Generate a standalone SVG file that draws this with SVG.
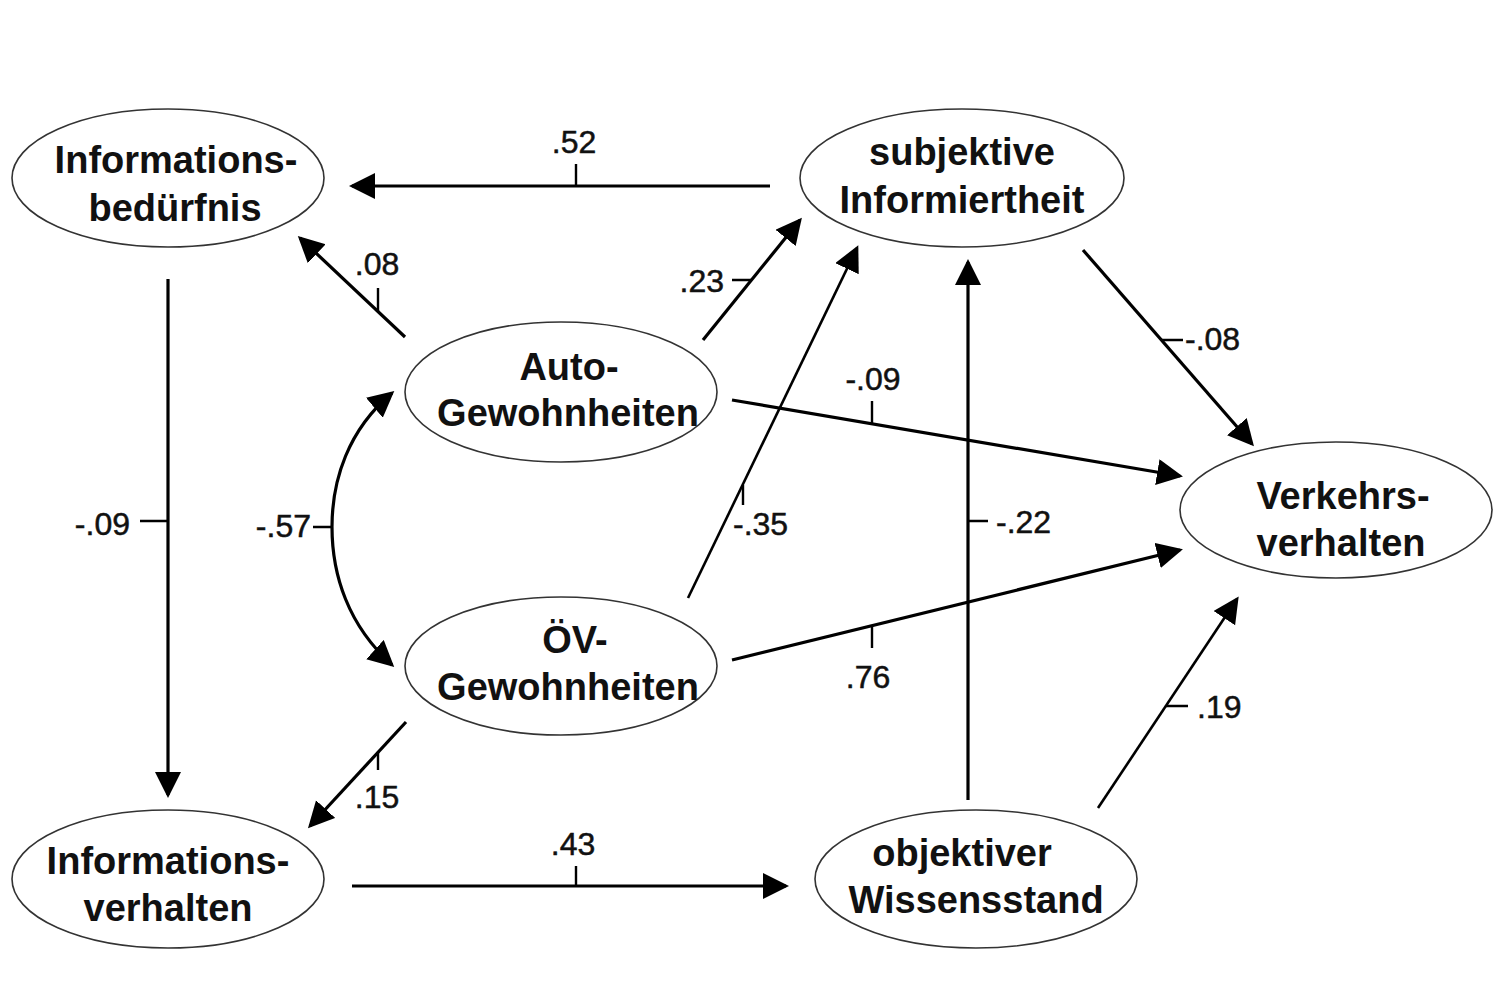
<svg xmlns="http://www.w3.org/2000/svg" width="1500" height="1000" viewBox="0 0 1500 1000">
<defs>
<marker id="ah" markerUnits="userSpaceOnUse" markerWidth="28" markerHeight="28" refX="23" refY="13" orient="auto-start-reverse">
<path d="M0,0 L26,13 L0,26 Z" fill="#000"/>
</marker>
<style>
.node ellipse{fill:#fff;stroke:#333;stroke-width:1.6}
.node text{font-family:"Liberation Sans",Arial,sans-serif;font-weight:bold;font-size:38px;fill:#111;text-anchor:middle}
.edge{fill:none;stroke:#000;stroke-width:3.2}
.thin{stroke-width:2.6}
.tick{fill:none;stroke:#000;stroke-width:2.4}
.lbl{font-family:"Liberation Sans",Arial,sans-serif;font-size:32px;fill:#111;stroke:#111;stroke-width:0.5}
</style>
</defs>
<rect width="1500" height="1000" fill="#fff"/>
<g id="connectors">
<path class="edge" d="M770,186 L352,186" marker-end="url(#ah)"/>
<path class="edge" d="M405,337 L300,238" marker-end="url(#ah)"/>
<path class="edge" d="M703,340 L800,220" marker-end="url(#ah)"/>
<path class="edge thin" d="M688,598 L857,248" marker-end="url(#ah)"/>
<path class="edge" d="M732,400 L1180,476" marker-end="url(#ah)"/>
<path class="edge" d="M732,660 L1180,550" marker-end="url(#ah)"/>
<path class="edge" d="M1083,250 L1252,444" marker-end="url(#ah)"/>
<path class="edge thin" d="M1098,808 L1237,599" marker-end="url(#ah)"/>
<path class="edge" d="M968,800 L968,262" marker-end="url(#ah)"/>
<path class="edge" d="M168,279 L168,795" marker-end="url(#ah)"/>
<path class="edge" d="M406,722 L310,826" marker-end="url(#ah)"/>
<path class="edge" d="M352,886 L786,886" marker-end="url(#ah)"/>
<path class="edge" d="M392,393 C348,430 332,480 332,527 C332,575 348,625 392,665" marker-start="url(#ah)" marker-end="url(#ah)"/>
<path class="tick" d="M576,186 V164 M378,311 V288 M732,280 H751 M743,485 V505 M872,424 V401 M872,626 V648 M1161,340 H1183 M1166,706 H1188 M968,521 H988 M140,521 H168 M313,527 H332 M378,752 V770 M576,886 V866"/>
<text class="lbl" x="574" y="153" text-anchor="middle">.52</text>
<text class="lbl" x="377" y="275" text-anchor="middle">.08</text>
<text class="lbl" x="724" y="292" text-anchor="end">.23</text>
<text class="lbl" x="733" y="535">-.35</text>
<text class="lbl" x="873" y="390" text-anchor="middle">-.09</text>
<text class="lbl" x="868" y="688" text-anchor="middle">.76</text>
<text class="lbl" x="1185" y="350">-.08</text>
<text class="lbl" x="1197" y="718">.19</text>
<text class="lbl" x="996" y="533">-.22</text>
<text class="lbl" x="130" y="535" text-anchor="end">-.09</text>
<text class="lbl" x="311" y="537" text-anchor="end">-.57</text>
<text class="lbl" x="377" y="808" text-anchor="middle">.15</text>
<text class="lbl" x="573" y="855" text-anchor="middle">.43</text>
</g>
<g id="informationsbeduerfnis" class="node">
<ellipse cx="168" cy="178" rx="156" ry="69"/>
<text x="176" y="173">Informations-</text>
<text x="175" y="221">bedürfnis</text>
</g>
<g id="subjektive-informiertheit" class="node">
<ellipse cx="962" cy="178" rx="162" ry="69"/>
<text x="962" y="165">subjektive</text>
<text x="962" y="213">Informiertheit</text>
</g>
<g id="auto-gewohnheiten" class="node">
<ellipse cx="561" cy="392" rx="156" ry="70"/>
<text x="569" y="380">Auto-</text>
<text x="568" y="426">Gewohnheiten</text>
</g>
<g id="oev-gewohnheiten" class="node">
<ellipse cx="561" cy="666" rx="156" ry="69"/>
<text x="575" y="653">ÖV-</text>
<text x="568" y="700">Gewohnheiten</text>
</g>
<g id="verkehrsverhalten" class="node">
<ellipse cx="1336" cy="510" rx="156" ry="68"/>
<text x="1343" y="509">Verkehrs-</text>
<text x="1341" y="556">verhalten</text>
</g>
<g id="informationsverhalten" class="node">
<ellipse cx="168" cy="879" rx="156" ry="69"/>
<text x="168" y="874">Informations-</text>
<text x="168" y="921">verhalten</text>
</g>
<g id="objektiver-wissensstand" class="node">
<ellipse cx="976" cy="879" rx="161" ry="69"/>
<text x="962" y="866">objektiver</text>
<text x="976" y="913">Wissensstand</text>
</g>
</svg>
